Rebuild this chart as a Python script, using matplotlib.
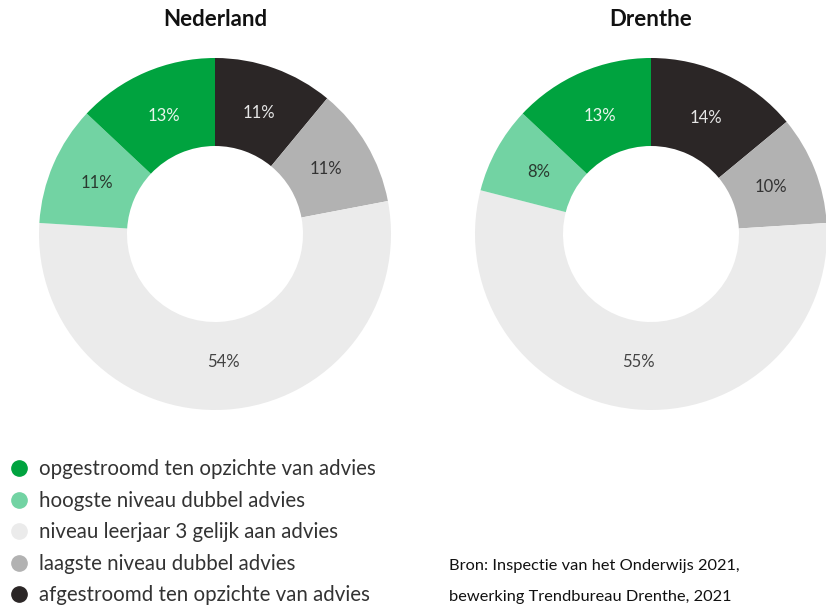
import numpy as np
import matplotlib.pyplot as plt
from matplotlib.lines import Line2D

plt.rcParams['font.family'] = ['Lato', 'DejaVu Sans']

# ----------------------------- DATA -----------------------------

# order: clockwise from the top
categories = [
    "afgestroomd ten opzichte van advies",
    "laagste niveau dubbel advies",
    "niveau leerjaar 3 gelijk aan advies",
    "hoogste niveau dubbel advies",
    "opgestroomd ten opzichte van advies",
]
nederland = [11, 11, 54, 11, 13]
drenthe = [14, 10, 55, 8, 13]
titles = ["Nederland", "Drenthe"]

colors = ["#2b2626", "#b2b2b2", "#ebebeb", "#72d3a3", "#00a33f"]
label_colors = ["#e6e6e6", "#333333", "#444444", "#2a3a30", "#e8f5ec"]

# legend order (top to bottom)
legend_order = [4, 3, 2, 1, 0]

# ----------------------------- FIGURE -----------------------------

fig = plt.figure(figsize=(8.26, 6.08), dpi=100)
W, H = 826, 608


def add_donut(cx, cy, r, values, title):
    ax = fig.add_axes([(cx - r) / W, (H - cy - r) / H, 2 * r / W, 2 * r / H])
    wedges, _ = ax.pie(values, colors=colors, startangle=90, counterclock=False,
                       radius=1, wedgeprops=dict(width=0.5, linewidth=0))
    total = sum(values)
    for w, v, c in zip(wedges, values, label_colors):
        ang = np.deg2rad((w.theta1 + w.theta2) / 2)
        ax.text(0.73 * np.cos(ang), 0.73 * np.sin(ang), f"{round(100 * v / total)}%",
                ha="center", va="center", fontsize=12, color=c)
    ax.set_xlim(-1, 1)
    ax.set_ylim(-1, 1)
    ax.set_aspect("equal")
    ax.axis("off")
    fig.text(cx / W, 1 - 19 / H, title, ha="center", va="center",
             fontsize=16, fontweight="bold", color="#111111")


add_donut(215, 234, 176, nederland, titles[0])
add_donut(651, 234, 176, drenthe, titles[1])

# ----------------------------- LEGEND -----------------------------

handles = [Line2D([], [], marker="o", linestyle="none", markersize=11,
                  markerfacecolor=colors[i], markeredgecolor=colors[i])
           for i in legend_order]
labels = [categories[i] for i in legend_order]
fig.legend(handles, labels, loc="upper left", bbox_to_anchor=(0.0, 1 - 451 / H),
           frameon=False, fontsize=14.8, labelspacing=0.56, handletextpad=0.5,
           handlelength=1.0, borderaxespad=0, labelcolor="#333333")

# ----------------------------- SOURCE -----------------------------

fig.text(449 / W, 1 - 566 / H, "Bron: Inspectie van het Onderwijs 2021,",
         ha="left", va="center", fontsize=11.8, color="#111111")
fig.text(449 / W, 1 - 597 / H, "bewerking Trendbureau Drenthe, 2021",
         ha="left", va="center", fontsize=11.8, color="#111111")

fig.savefig("out.png", dpi=100)
